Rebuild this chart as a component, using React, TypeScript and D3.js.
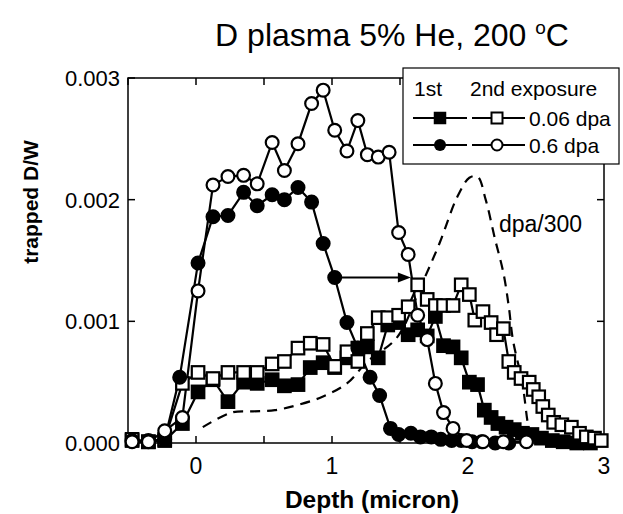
import React from 'react';
import * as d3 from 'd3';

// ---- data (depth in micron, trapped D/W) ----
const filledSquares: [number, number][] = [
  [-0.47, 0.00002], [-0.35, 0.00001], [-0.23, 0.00002], [-0.1, 0.00016], [0.015, 0.00042],
  [0.125, 0.00052], [0.235, 0.00034], [0.35, 0.0005], [0.45, 0.00049], [0.56, 0.00052],
  [0.65, 0.00047], [0.75, 0.00048], [0.84, 0.00062], [0.935, 0.00066], [1.02, 0.00062],
  [1.11, 0.0007], [1.19, 0.00078], [1.26, 0.00079], [1.34, 0.0007], [1.41, 0.00097],
  [1.49, 0.00099], [1.56, 0.00089], [1.63, 0.00093], [1.7, 0.00088], [1.76, 0.00104],
  [1.82, 0.0008], [1.89, 0.00079], [1.95, 0.0007], [2.01, 0.0005], [2.07, 0.00048],
  [2.12, 0.00027], [2.17, 0.00021], [2.22, 0.00016], [2.28, 0.00013], [2.34, 0.00011],
  [2.4, 0.00008], [2.47, 0.00007], [2.54, 0.00004], [2.62, 0.00002], [2.7, 0.00001],
  [2.8, 0.0], [2.9, 0.0],
];

const openSquares: [number, number][] = [
  [-0.47, 0.00003], [-0.35, 0.00001], [-0.23, 0.00003], [-0.1, 0.00049], [0.015, 0.00058],
  [0.125, 0.00053], [0.235, 0.00058], [0.35, 0.00058], [0.45, 0.00058], [0.56, 0.00065],
  [0.65, 0.00067], [0.75, 0.00078], [0.84, 0.00082], [0.935, 0.00081], [1.02, 0.00063],
  [1.11, 0.00075], [1.19, 0.00067], [1.26, 0.0009], [1.34, 0.00103], [1.41, 0.00103],
  [1.49, 0.00105], [1.56, 0.00112], [1.63, 0.0013], [1.7, 0.00118], [1.76, 0.00113],
  [1.82, 0.00113], [1.89, 0.00113], [1.95, 0.0013], [2.01, 0.00122], [2.05, 0.00101],
  [2.11, 0.00108], [2.17, 0.00099], [2.21, 0.00089], [2.26, 0.00094], [2.3, 0.00067],
  [2.34, 0.00058], [2.39, 0.00053], [2.45, 0.0005], [2.48, 0.00044], [2.52, 0.00038],
  [2.55, 0.0003], [2.59, 0.00023], [2.63, 0.00017], [2.69, 0.00015], [2.76, 0.00013],
  [2.82, 0.00008], [2.87, 0.00005], [2.93, 0.00004], [2.98, 0.00002],
];

const filledCircles: [number, number][] = [
  [-0.47, 0.00002], [-0.35, 0.00002], [-0.23, 0.00003], [-0.12, 0.00054], [0.015, 0.00148],
  [0.125, 0.00186], [0.235, 0.00187], [0.35, 0.00206], [0.45, 0.00195], [0.56, 0.00204],
  [0.65, 0.002], [0.75, 0.0021], [0.85, 0.00198], [0.935, 0.00164], [1.02, 0.00136],
  [1.11, 0.00099], [1.19, 0.00078], [1.28, 0.00054], [1.35, 0.00039], [1.43, 0.00012],
  [1.49, 0.00007], [1.58, 0.00008], [1.65, 0.00005], [1.73, 0.00005], [1.8, 0.00003],
  [1.88, 0.00002], [1.95, 0.00002], [2.03, 0.00001], [2.1, 0.00001], [2.2, 0.0], [2.3, 0.0],
];

const openCircles: [number, number][] = [
  [-0.47, 0.00001], [-0.35, 0.00001], [-0.23, 0.0001], [-0.1, 0.00021], [0.015, 0.00125],
  [0.125, 0.00212], [0.235, 0.00219], [0.35, 0.0022], [0.45, 0.00213], [0.56, 0.00247],
  [0.65, 0.00224], [0.75, 0.00246], [0.85, 0.00279], [0.935, 0.0029], [1.02, 0.00257],
  [1.11, 0.0024], [1.19, 0.00265], [1.26, 0.00237], [1.34, 0.00235], [1.42, 0.00239],
  [1.49, 0.00173], [1.56, 0.00155], [1.63, 0.00105], [1.7, 0.00085], [1.76, 0.00049],
  [1.82, 0.00025], [1.89, 0.00012], [1.99, 0.00002], [2.11, 0.00001], [2.26, 0.00001],
  [2.43, 0.00001],
];

const dpaCurve: [number, number][] = [
  [0.05, 0.00013], [0.26, 0.00025], [0.42, 0.00026], [0.58, 0.00027], [0.74, 0.00031],
  [0.93, 0.00038], [1.11, 0.00049], [1.26, 0.00067], [1.48, 0.00087], [1.65, 0.00128],
  [1.79, 0.00164], [1.92, 0.00202], [2.01, 0.00218], [2.07, 0.00219], [2.13, 0.002],
  [2.2, 0.00167], [2.26, 0.0014], [2.3, 0.00112], [2.33, 0.00085], [2.4, 0.00049],
  [2.44, 0.00016], [2.47, 0.0],
];

const arrowFrom: [number, number] = [1.02, 0.00136];
const arrowTo: [number, number] = [1.58, 0.00136];

const xTicks = [-0.5, 0, 0.5, 1, 1.5, 2, 2.5, 3];
const xTickLabels = [0, 1, 2, 3];
const yTicks = [0, 0.001, 0.002, 0.003];
const yTickLabels = ['0.000', '0.001', '0.002', '0.003'];

const FONT = '"Liberation Sans", Arial, Helvetica, sans-serif';

export default function App() {
  const W = 623, H = 514;
  const x = d3.scaleLinear().domain([-0.5, 3]).range([128, 604]);
  const y = d3.scaleLinear().domain([0, 0.003]).range([443, 78]);
  const line = d3.line<[number, number]>().x(d => x(d[0])).y(d => y(d[1]));
  const curve = d3.line<[number, number]>().x(d => x(d[0])).y(d => y(d[1])).curve(d3.curveCatmullRom);

  const [x0, x1] = x.range();
  const [yb, yt] = y.range();
  const sq = 12.5, cr = 6.4;

  const sqMarks = (data: [number, number][], fill: string, key: string) =>
    data.map((d, i) => (
      <rect key={key + i} x={x(d[0]) - sq / 2} y={y(d[1]) - sq / 2} width={sq} height={sq}
        fill={fill} stroke="#000" strokeWidth={2.2} />
    ));
  const circMarks = (data: [number, number][], fill: string, key: string) =>
    data.map((d, i) => (
      <circle key={key + i} cx={x(d[0])} cy={y(d[1])} r={cr} fill={fill} stroke="#000" strokeWidth={2.2} />
    ));

  const ax = x(arrowFrom[0]), ay = y(arrowFrom[1]), bx = x(arrowTo[0]);

  const lg = { x: 403, y: 68, w: 216, h: 96 };
  const r1 = 118, r2 = 145;

  return (
    <svg width={W} height={H} style={{ position: 'absolute', left: 0, top: 0, background: '#fff' }}
      fontFamily={FONT}>
      <rect x={0} y={0} width={W} height={H} fill="#fff" />
      <text x={392} y={46} textAnchor="middle" fontSize={32}>
        D plasma 5% He, 200 <tspan dy={-12} fontSize={19}>o</tspan><tspan dy={12}>C</tspan>
      </text>

      {/* frame */}
      <rect x={x0} y={yt} width={x1 - x0} height={yb - yt} fill="none" stroke="#000" strokeWidth={1.5} />
      {xTicks.map(t => (
        <g key={'xt' + t}>
          <line x1={x(t)} x2={x(t)} y1={yb} y2={yb - 7} stroke="#000" strokeWidth={1.5} />
          <line x1={x(t)} x2={x(t)} y1={yt} y2={yt + 7} stroke="#000" strokeWidth={1.5} />
        </g>
      ))}
      {yTicks.map(t => (
        <g key={'yt' + t}>
          <line x1={x0} x2={x0 + 7} y1={y(t)} y2={y(t)} stroke="#000" strokeWidth={1.5} />
          <line x1={x1} x2={x1 - 7} y1={y(t)} y2={y(t)} stroke="#000" strokeWidth={1.5} />
        </g>
      ))}
      {yTicks.map((t, i) => (
        <text key={'yl' + t} x={120} y={y(t)} dy="0.36em" textAnchor="end" fontSize={22}>{yTickLabels[i]}</text>
      ))}
      {xTickLabels.map(t => (
        <text key={'xl' + t} x={x(t)} y={474} textAnchor="middle" fontSize={23}>{t}</text>
      ))}
      <text x={372} y={508} textAnchor="middle" fontSize={24.5} fontWeight="bold">Depth (micron)</text>
      <text transform={`translate(38,202) rotate(-90)`} textAnchor="middle" fontSize={21}
        fontWeight="bold">trapped D/W</text>

      {/* dpa/300 */}
      <path d={curve(dpaCurve) || ''} fill="none" stroke="#000" strokeWidth={2.2} strokeDasharray="10,7" />
      <text x={499} y={232} fontSize={23}>dpa/300</text>

      {/* series lines */}
      <path d={line(filledSquares) || ''} fill="none" stroke="#000" strokeWidth={2.2} />
      <path d={line(openSquares) || ''} fill="none" stroke="#000" strokeWidth={2.2} />
      <path d={line(filledCircles) || ''} fill="none" stroke="#000" strokeWidth={2.2} />
      <path d={line(openCircles) || ''} fill="none" stroke="#000" strokeWidth={2.2} />

      {sqMarks(filledSquares, '#000', 'fs')}
      {sqMarks(openSquares, '#fff', 'os')}
      {circMarks(filledCircles, '#000', 'fc')}
      {circMarks(openCircles, '#fff', 'oc')}

      {/* arrow */}
      <line x1={ax} x2={bx - 10} y1={ay} y2={ay} stroke="#000" strokeWidth={2} />
      <path d={`M${bx},${ay} L${bx - 13},${ay - 5} L${bx - 13},${ay + 5} Z`} fill="#000" />

      {/* legend */}
      <rect x={lg.x} y={lg.y} width={lg.w} height={lg.h} fill="#fff" stroke="#000" strokeWidth={1.2} />
      <text x={414} y={96} fontSize={21}>1st</text>
      <text x={470} y={96} fontSize={21}>2nd exposure</text>
      <line x1={413} x2={467} y1={r1} y2={r1} stroke="#000" strokeWidth={2} />
      <rect x={440 - 5.5} y={r1 - 5.5} width={11} height={11} fill="#000" stroke="#000" strokeWidth={1.5} />
      <line x1={472} x2={525} y1={r1} y2={r1} stroke="#000" strokeWidth={2} />
      <rect x={497 - 5.5} y={r1 - 5.5} width={11} height={11} fill="#fff" stroke="#000" strokeWidth={2} />
      <text x={529} y={r1 + 8} fontSize={21}>0.06 dpa</text>
      <line x1={413} x2={467} y1={r2} y2={r2} stroke="#000" strokeWidth={2} />
      <circle cx={440} cy={r2} r={6} fill="#000" />
      <line x1={472} x2={525} y1={r2} y2={r2} stroke="#000" strokeWidth={2} />
      <circle cx={497} cy={r2} r={5.5} fill="#fff" stroke="#000" strokeWidth={2} />
      <text x={529} y={r2 + 8} fontSize={21}>0.6 dpa</text>
    </svg>
  );
}
